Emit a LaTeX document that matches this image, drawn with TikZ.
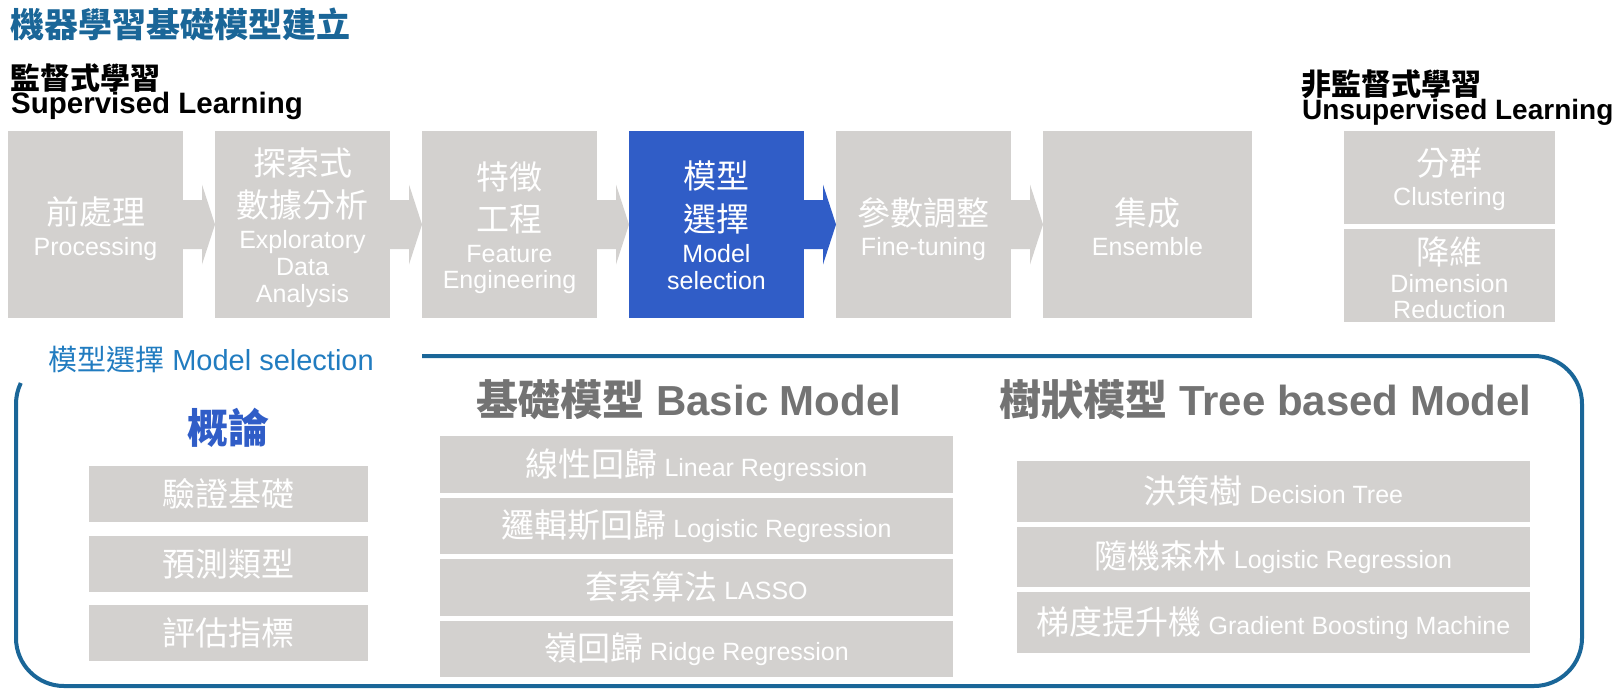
\documentclass[tikz,border=0pt]{standalone}
\usepackage{fontspec}
\setmainfont{Liberation Sans}
\newfontfamily\cjk{Noto Sans CJK TC}
\usetikzlibrary{calc}
\definecolor{boxgray}{RGB}{211,209,207}
\definecolor{boxblue}{RGB}{48,93,199}
\definecolor{titleblue}{RGB}{26,102,152}
\definecolor{labelblue}{RGB}{33,124,192}
\definecolor{headgray}{RGB}{115,115,115}
\newcommand\fs[1]{\fontsize{#1}{#1}\selectfont}
\newcommand\cc[1]{{\cjk\fs{33}#1}}
\newcommand\flowarrow[3]{%
  \fill[#3] ($(#1.east)+(-1,-24.5)$) -- ($(#2.west)+(-13,-24.5)$) -- ($(#2.west)+(-13,-40)$)
    -- (#2.west) -- ($(#2.west)+(-13,40)$) -- ($(#2.west)+(-13,24.5)$) -- ($(#1.east)+(-1,24.5)$) -- cycle;}
\tikzset{
  gbox/.style={fill=boxgray, draw=none, inner sep=0pt, outer sep=0pt, anchor=north west},
  bbox/.style={gbox, fill=boxblue},
  wt/.style={anchor=base, inner sep=0pt, text=white, font=\fs{25}},
  wc/.style={wt, font=\cjk\fs{33}},
  hd/.style={anchor=base, inner sep=0pt, text=headgray, font=\bfseries\fs{42}},
  lt/.style={anchor=base west, inner sep=0pt},
  frame/.style={draw=titleblue, line width=4pt},
}
\begin{document}
\begin{tikzpicture}[x=1pt,y=-1pt]
\useasboundingbox (0,0) rectangle (1616,694);

% headings
\node[lt, text=titleblue, font=\cjk\bfseries\fs{34}] (title) at (10,37.5) {機器學習基礎模型建立};
\node[lt, font=\cjk\bfseries\fs{30}] (sup1) at (10,89) {監督式學習};
\node[lt, font=\bfseries\fs{29.5}] (sup2) at (11,113) {Supervised Learning};
\node[lt, font=\cjk\bfseries\fs{30}] (uns1) at (1301,95) {非監督式學習};
\node[lt, font=\bfseries\fs{28}] (uns2) at (1302,119) {Unsupervised Learning};

% process boxes
\node[gbox, minimum width=175pt, minimum height=187pt] (p1) at (8,131) {};
\node[gbox, minimum width=175pt, minimum height=187pt] (p2) at (215,131) {};
\node[gbox, minimum width=175pt, minimum height=187pt] (p3) at (422,131) {};
\node[bbox, minimum width=175pt, minimum height=187pt] (p4) at (629,131) {};
\node[gbox, minimum width=175pt, minimum height=187pt] (p5) at (836,131) {};
\node[gbox, minimum width=209pt, minimum height=187pt] (p6) at (1043,131) {};

\flowarrow{p1}{p2}{boxgray}
\flowarrow{p2}{p3}{boxgray}
\flowarrow{p3}{p4}{boxgray}
\flowarrow{p4}{p5}{boxblue}
\flowarrow{p5}{p6}{boxgray}

\node[wc] (t1a) at (95.5,224.5) {前處理};
\node[wt] (t1b) at (95.5,255) {Processing};
\node[wc] (t2a) at (302.5,175.5) {探索式};
\node[wc] (t2b) at (302.5,217.5) {數據分析};
\node[wt] (t2c) at (302.5,248) {Exploratory};
\node[wt] (t2d) at (302.5,275) {Data};
\node[wt] (t2e) at (302.5,302) {Analysis};
\node[wc] (t3a) at (509.5,189.5) {特徵};
\node[wc] (t3b) at (509.5,231.5) {工程};
\node[wt] (t3c) at (509.5,262) {Feature};
\node[wt] (t3d) at (509.5,288) {Engineering};
\node[wc] (t4a) at (716.5,188.5) {模型};
\node[wc] (t4b) at (716.5,231.5) {選擇};
\node[wt] (t4c) at (716.5,262) {Model};
\node[wt] (t4d) at (716.5,289) {selection};
\node[wc] (t5a) at (923.5,225.5) {參數調整};
\node[wt] (t5b) at (923.5,255) {Fine-tuning};
\node[wc] (t6a) at (1147.5,225.5) {集成};
\node[wt] (t6b) at (1147.5,255) {Ensemble};

% unsupervised boxes
\node[gbox, minimum width=211pt, minimum height=93pt] (u1) at (1344,131) {};
\node[gbox, minimum width=211pt, minimum height=93pt] (u2) at (1344,229) {};
\node[wc] (u1a) at (1449.5,175) {分群};
\node[wt] (u1b) at (1449.5,205) {Clustering};
\node[wc] (u2a) at (1449.5,264) {降維};
\node[wt] (u2b) at (1449.5,292) {Dimension};
\node[wt] (u2c) at (1449.5,318) {Reduction};

% frame
\node[lt, text=labelblue, font=\fs{29}] (lbl) at (48,370) {{\cjk 模型選擇} Model selection};
\coordinate (f0) at (422,356);
\coordinate (f1) at (1582,356);
\coordinate (f2) at (1582,686);
\coordinate (f3) at (16,686);
\coordinate (f4) at (16,410);
\draw[frame, rounded corners=48pt] (f0) -- (f1) -- (f2) -- (f3) -- (f4);
\draw[frame] (f4) -- (16,404) .. controls (16,396.7) and (17.6,389.5) .. (20.8,383);

% section headings
\node[anchor=base, inner sep=0pt, text=boxblue, font=\cjk\bfseries\fs{41}] (gl) at (228.5,443) {概論};
\node[hd] (hb) at (689,415) {{\cjk 基礎模型} Basic Model};
\node[hd] (ht) at (1265.5,415) {{\cjk 樹狀模型} Tree based Model};

% left column
\node[gbox, minimum width=279pt, minimum height=56pt] (l1) at (89,466) {};
\node[gbox, minimum width=279pt, minimum height=56pt] (l2) at (89,536) {};
\node[gbox, minimum width=279pt, minimum height=56pt] (l3) at (89,605) {};
\node[wc] (l1t) at (228.5,506.5) {驗證基礎};
\node[wc] (l2t) at (228.5,576.5) {預測類型};
\node[wc] (l3t) at (228.5,645.5) {評估指標};

% middle column
\node[gbox, minimum width=513pt, minimum height=57pt] (m1) at (440,436) {};
\node[gbox, minimum width=513pt, minimum height=56pt] (m2) at (440,498) {};
\node[gbox, minimum width=513pt, minimum height=57pt] (m3) at (440,559) {};
\node[gbox, minimum width=513pt, minimum height=56pt] (m4) at (440,621) {};
\node[wt] (m1t) at (696.5,476) {\cc{線性回歸} Linear Regression};
\node[wt] (m2t) at (696.5,537.5) {\cc{邏輯斯回歸} Logistic Regression};
\node[wt] (m3t) at (696.5,599) {\cc{套索算法} LASSO};
\node[wt] (m4t) at (696.5,660.5) {\cc{嶺回歸} Ridge Regression};

% right column
\node[gbox, minimum width=513pt, minimum height=61pt] (r1) at (1017,461) {};
\node[gbox, minimum width=513pt, minimum height=60pt] (r2) at (1017,527) {};
\node[gbox, minimum width=513pt, minimum height=61pt] (r3) at (1017,592) {};
\node[wt] (r1t) at (1273.5,503) {\cc{決策樹} Decision Tree};
\node[wt] (r2t) at (1273.5,568.5) {\cc{隨機森林} Logistic Regression};
\node[wt] (r3t) at (1273.5,634) {\cc{梯度提升機} Gradient Boosting Machine};
\end{tikzpicture}
\end{document}
